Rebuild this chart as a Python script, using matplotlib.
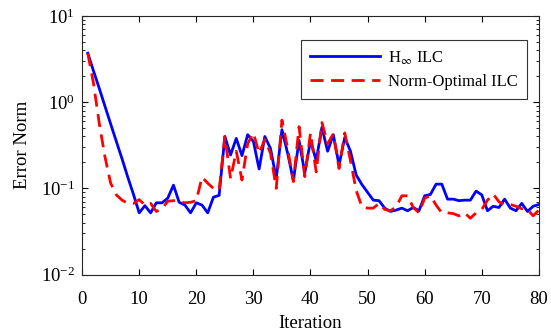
import matplotlib
matplotlib.use("Agg")
import matplotlib.pyplot as plt
import numpy as np

plt.rcParams['font.family'] = ['Liberation Serif', 'DejaVu Serif']
plt.rcParams['mathtext.fontset'] = 'stix'

# iteration index
iters = np.arange(1, 81)

# H-infinity ILC error norm
hinf = [3.7, 2.3, 1.45, 0.9, 0.56, 0.35, 0.22, 0.135, 0.085, 0.052,
        0.063, 0.052, 0.068, 0.068, 0.077, 0.109, 0.069, 0.064, 0.052, 0.068,
        0.064, 0.052, 0.079, 0.083, 0.40, 0.244, 0.38, 0.24, 0.42, 0.35,
        0.168, 0.40, 0.29, 0.13, 0.48, 0.255, 0.123, 0.36, 0.15, 0.36,
        0.21, 0.51, 0.27, 0.42, 0.186, 0.39, 0.27, 0.143, 0.111, 0.09,
        0.073, 0.072, 0.059, 0.054, 0.056, 0.059, 0.055, 0.060, 0.055, 0.082,
        0.085, 0.112, 0.112, 0.075, 0.075, 0.072, 0.073, 0.073, 0.093, 0.084,
        0.055, 0.062, 0.060, 0.075, 0.059, 0.055, 0.067, 0.054, 0.062, 0.065]

# Norm-optimal ILC error norm
normopt = [3.7, 1.65, 0.57, 0.233, 0.115, 0.084, 0.073, 0.067, 0.067, 0.074,
           0.064, 0.067, 0.054, 0.058, 0.071, 0.072, 0.071, 0.068, 0.069, 0.072,
           0.135, 0.115, 0.10, 0.095, 0.40, 0.13, 0.27, 0.125, 0.33, 0.44,
           0.255, 0.37, 0.255, 0.10, 0.62, 0.29, 0.12, 0.52, 0.137, 0.44,
           0.155, 0.58, 0.33, 0.43, 0.17, 0.44, 0.21, 0.095, 0.061, 0.059,
           0.059, 0.067, 0.057, 0.055, 0.061, 0.082, 0.082, 0.060, 0.052, 0.077,
           0.082, 0.064, 0.052, 0.052, 0.051, 0.048, 0.052, 0.045, 0.052, 0.057,
           0.073, 0.086, 0.070, 0.064, 0.065, 0.062, 0.058, 0.057, 0.048, 0.056]

fig = plt.figure(figsize=(5.51, 3.34), dpi=100)
ax = fig.add_axes([0.149, 0.178, 0.829, 0.774])

ax.semilogy(iters, hinf, color='blue', linewidth=2, label='H$_{\\infty}$ ILC')
ax.semilogy(iters, normopt, color='red', linewidth=2, dashes=(4.7, 2.7),
            label='Norm-Optimal ILC')

ax.set_xlim(0, 80)
ax.set_ylim(1e-2, 1e1)
ax.set_xticks(np.arange(0, 81, 10))
ax.tick_params(which='both', direction='in', top=True, right=True, labelsize=13.5)
ax.tick_params(which='major', length=4)
ax.tick_params(which='minor', length=2)
ax.tick_params(axis='x', pad=12)
ax.tick_params(axis='y', pad=5)
for s in ax.spines.values():
    s.set_linewidth(0.8)
    s.set_color('#262626')

ax.set_xlabel('Iteration', fontsize=13.5, labelpad=5)
ax.set_ylabel('Error Norm', fontsize=13.5, labelpad=7)

leg = ax.legend(loc='upper right', bbox_to_anchor=(0.957, 0.880),
                bbox_transform=fig.transFigure, borderaxespad=0,
                fontsize=12, fancybox=False,
                framealpha=1, edgecolor='#333333', handlelength=4.2,
                borderpad=0.55, labelspacing=0.45, handletextpad=0.5)
leg.get_frame().set_linewidth(0.8)

fig.savefig('out.png', dpi=100)
